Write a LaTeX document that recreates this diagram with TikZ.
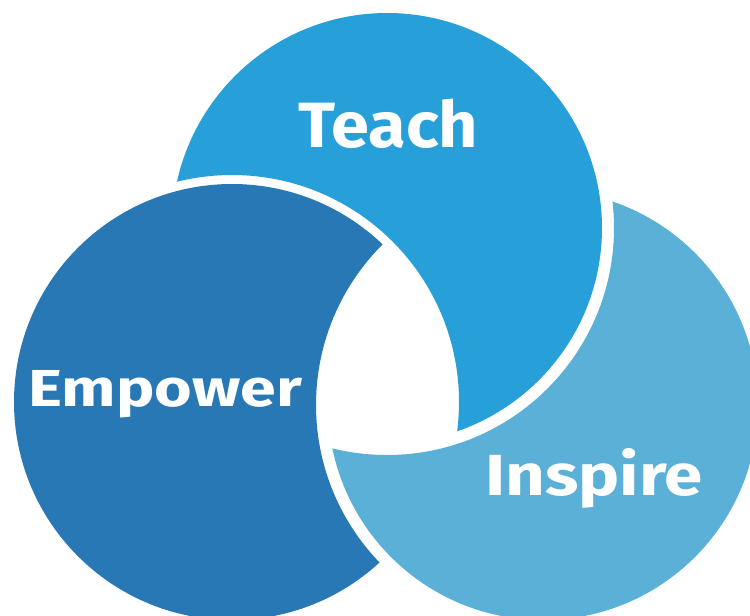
\documentclass[tikz,border=0pt]{standalone}
\usepackage{fontspec}
\setmainfont{Fira Sans}
\definecolor{tcol}{RGB}{39,160,218}
\definecolor{ecol}{RGB}{40,120,182}
\definecolor{icol}{RGB}{91,176,215}
\tikzset{
  lbl/.style={text=white, font=\bfseries, inner sep=0pt, anchor=base west},
}
\begin{document}
\begin{tikzpicture}[x=1pt,y=-1pt]
\useasboundingbox (0,0) rectangle (750,616);
\fill[white] (0,0) rectangle (750,616);
\def\R{215}
\def\G{227}
\coordinate (cT) at (387,228);
\coordinate (cE) at (232,402);
\coordinate (cI) at (543,405);
% Teach: T minus (E+gap)
\begin{scope}[even odd rule]
  \clip (-20,-20) rectangle (770,636) (cE) circle[radius=\G];
  \fill[tcol] (cT) circle[radius=\R];
\end{scope}
% Empower: E minus (I+gap)
\begin{scope}[even odd rule]
  \clip (-20,-20) rectangle (770,636) (cI) circle[radius=\G];
  \fill[ecol] (cE) circle[radius=218];
\end{scope}
% Inspire: I minus (T+gap)
\begin{scope}[even odd rule]
  \clip (-20,-20) rectangle (770,636) (cT) circle[radius=\G];
  \fill[icol] (cI) circle[radius=\R];
\end{scope}
\node[lbl, font=\bfseries\fontsize{64}{64}\selectfont, xscale=1.07] (teach) at (298,147) {Teach};
\node[lbl, font=\bfseries\fontsize{52}{52}\selectfont, xscale=1.24] (empower) at (28,406) {Empower};
\node[lbl, font=\bfseries\fontsize{58}{58}\selectfont, xscale=1.19] (inspire) at (485,495) {Inspire};
\end{tikzpicture}
\end{document}
